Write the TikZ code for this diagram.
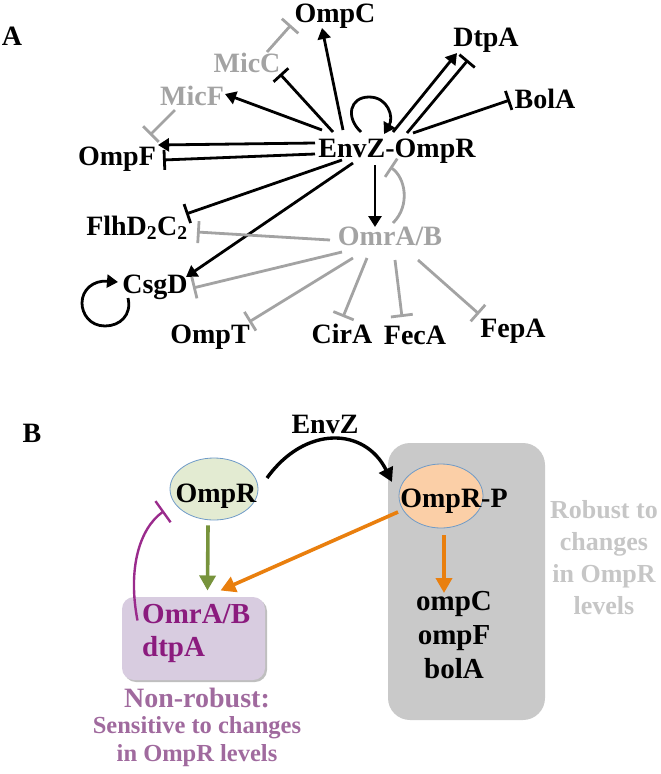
\documentclass[tikz,border=0pt]{standalone}
\usepackage{fontspec}
\setmainfont{Liberation Serif}
\usetikzlibrary{arrows.meta,shapes.geometric}
\definecolor{grA}{HTML}{A3A3A3}
\definecolor{boxgray}{HTML}{C9C9C9}
\definecolor{robgray}{HTML}{C6C6C6}
\definecolor{greenar}{HTML}{77933C}
\definecolor{orangear}{HTML}{E97F0E}
\definecolor{purpline}{HTML}{9A2B8C}
\definecolor{purptext}{HTML}{8B1B7E}
\definecolor{nonrob}{HTML}{A06A9E}
\definecolor{lavender}{HTML}{D8CCE0}
\definecolor{sage}{HTML}{E3EBD2}
\definecolor{peach}{HTML}{FBCFA7}
\definecolor{ellline}{HTML}{6F9BC8}
\tikzset{
  lbl/.style={font=\bfseries\fontsize{28}{30}\selectfont, inner sep=0pt, anchor=base},
  glbl/.style={lbl, text=grA},
  blk/.style={draw=black, line width=2.8pt},
  gry/.style={draw=grA, line width=2.8pt},
  act/.style={-{Triangle[length=11pt,width=13pt]}},
  inh/.style={-{Bar[width=20pt,line width=2.8pt]}},
  ginh/.style={-{Bar[width=22pt,line width=2.8pt]}},
  bigact/.style={line width=3.6pt,-{Triangle[length=15pt,width=16pt]}},
  ell/.style={ellipse, draw=ellline, line width=0.8pt, inner sep=0pt},
}
\begin{document}
\begin{tikzpicture}[x=1pt,y=-1pt]
\useasboundingbox (0,0) rectangle (661,774);
% ---------- Panel A ----------
\node[lbl, font=\bfseries\fontsize{28}{30}\selectfont] (lA) at (12,45) {A};
\node[lbl] (ompc) at (335,22) {OmpC};
\node[glbl] (micc) at (247,72) {MicC};
\node[glbl] (micf) at (192,105) {MicF};
\node[lbl] (ompf) at (117,165) {OmpF};
\node[lbl] (envz) at (397,157) {EnvZ-OmpR};
\node[lbl] (dtpa) at (486,46) {DtpA};
\node[lbl] (bola) at (545,108) {BolA};
\node[lbl] (flhd) at (137,235) {FlhD\textsubscript{2}C\textsubscript{2}};
\node[glbl] (omrab) at (390,245) {OmrA/B};
\node[lbl] (csgd) at (155,293) {CsgD};
\node[lbl] (ompt) at (210,343) {OmpT};
\node[lbl] (cira) at (342,343) {CirA};
\node[lbl] (feca) at (415,344) {FecA};
\node[lbl] (fepa) at (513,337) {FepA};

% black edges from EnvZ-OmpR
\draw[blk,act] ([shift={(-54,-27)}]envz.base) -- ([shift={(-13,6)}]ompc.base);
\draw[blk,inh] ([shift={(-64,-25)}]envz.base) -- ([shift={(33,2)}]micc.base);
\draw[blk,act] ([shift={(-75,-27)}]envz.base) -- ([shift={(33,-11)}]micf.base);
\draw[blk,act] ([shift={(-82,-14)}]envz.base) -- ([shift={(41,-20)}]ompf.base);
\draw[blk,inh] ([shift={(-82,-3)}]envz.base) -- ([shift={(46,-5)}]ompf.base);
\draw[blk,act] ([shift={(-36,-25)}]envz.base) .. controls ([shift={(-52,-40)}]envz.base) and ([shift={(-47,-60)}]envz.base) .. ([shift={(-28,-60)}]envz.base) .. controls ([shift={(-9,-60)}]envz.base) and ([shift={(-3,-40)}]envz.base) .. ([shift={(-13,-23)}]envz.base);
\draw[blk,act] ([shift={(-4,-25)}]envz.base) -- ([shift={(-29,7)}]dtpa.base);
\draw[blk,inh] ([shift={(10,-24)}]envz.base) -- ([shift={(-18,14)}]dtpa.base);
\draw[blk,inh] ([shift={(16,-24)}]envz.base) -- ([shift={(-35,-8)}]bola.base);
\draw[blk,act] ([shift={(-22,8)}]envz.base) -- ([shift={(-15,-18)}]omrab.base);
\draw[blk,inh] ([shift={(-55,3)}]envz.base) -- ([shift={(49,-21)}]flhd.base);
\draw[blk,act] ([shift={(-44,6)}]envz.base) -- ([shift={(31,-16)}]csgd.base);
% CsgD self loop
\draw[blk,act] ([shift={(-27,5)}]csgd.base) .. controls ([shift={(-23,22)}]csgd.base) and ([shift={(-35,33)}]csgd.base) .. ([shift={(-50,33)}]csgd.base) .. controls ([shift={(-65,33)}]csgd.base) and ([shift={(-73,21)}]csgd.base) .. ([shift={(-73,10)}]csgd.base) .. controls ([shift={(-73,-3)}]csgd.base) and ([shift={(-62,-13)}]csgd.base) .. ([shift={(-37,-11)}]csgd.base);

% gray edges
\draw[gry,ginh] ([shift={(20,-20)}]micc.base) -- ([shift={(-44,3)}]ompc.base);
\draw[gry,ginh] ([shift={(-17,5)}]micf.base) -- ([shift={(33,-30)}]ompf.base);
\draw[gry,ginh] ([shift={(3,-22)}]omrab.base) .. controls ([shift={(21,-40)}]omrab.base) and ([shift={(15,-68)}]omrab.base) .. ([shift={(-7,10)}]envz.base);
\draw[gry,ginh] ([shift={(-60,-5)}]omrab.base) -- ([shift={(60,-3)}]flhd.base);
\draw[gry,ginh] ([shift={(-48,7)}]omrab.base) -- ([shift={(38,-5)}]csgd.base);
\draw[gry,ginh] ([shift={(-37,13)}]omrab.base) -- ([shift={(39,-21)}]ompt.base);
\draw[gry,ginh] ([shift={(-23,13)}]omrab.base) -- ([shift={(1,-26)}]cira.base);
\draw[gry,ginh] ([shift={(5,15)}]omrab.base) -- ([shift={(-13,-27)}]feca.base);
\draw[gry,ginh] ([shift={(28,15)}]omrab.base) -- ([shift={(-34,-23)}]fepa.base);

% ---------- Panel B ----------
\node[lbl] (lB) at (32,442) {B};
\node[draw=none, fill=boxgray, rounded corners=22pt, minimum width=157pt, minimum height=277pt, inner sep=0pt] (robbox) at (466.5,581.5) {};
\node[fill=black!25, rounded corners=12pt, minimum width=143pt, minimum height=83pt, inner sep=0pt] (purpshadow) at (195.5,640.5) {};
\node[fill=lavender, rounded corners=12pt, minimum width=143pt, minimum height=83pt, inner sep=0pt] (purpbox) at (193.5,638.5) {};
\node[ell, fill=sage, minimum width=88pt, minimum height=62pt] (ompr) at (214,489) {};
\node[lbl] (omprtxt) at (216,502) {OmpR};
\node[ell, fill=peach, minimum width=84pt, minimum height=64pt] (omprp) at (441,496) {};
\node[lbl] (omprptxt) at (454,507) {OmpR-P};
\node[lbl] (envzB) at (325,433) {EnvZ};
\node[lbl, align=center, font=\bfseries\fontsize{29}{34}\selectfont, anchor=north] (genes) at (454,591) {ompC\\ompF\\bolA};
\node[lbl, align=center, text=robgray, font=\bfseries\fontsize{26}{32}\selectfont, anchor=north] (robtxt) at (604,500) {Robust to\\changes\\in OmpR\\levels};
\node[lbl, align=left, text=purptext, font=\bfseries\fontsize{29}{33}\selectfont, anchor=north west] (omrabB) at (142,604) {OmrA/B\\dtpA};
\node[lbl, text=nonrob] (nonrob) at (197,707) {Non-robust:};
\node[lbl, text=nonrob, align=center, font=\bfseries\fontsize{24.5}{28}\selectfont, anchor=north] (senstxt) at (197,716) {Sensitive to changes\\in OmpR levels};

\draw[line width=3.4pt,-{Triangle[length=14pt,width=15pt]}] ([shift={(53,-11)}]ompr.center) .. controls +(38,-53) and +(-27,-55) .. ([shift={(-49,-14)}]omprp.center);
\draw[bigact, draw=greenar, -{Triangle[length=15pt,width=16pt,fill=greenar]}] ([shift={(-6,5)}]ompr.south) -- ([shift={(14,-48)}]purpbox.center);
\draw[bigact, draw=orangear] ([shift={(-43,16)}]omprp.center) -- ([shift={(27,-48)}]purpbox.center);
\draw[bigact, draw=orangear] ([shift={(3,7)}]omprp.south) -- ([shift={(-10,2)}]genes.north);
\draw[purpline, line width=2.4pt, -{Bar[width=26pt,line width=2.4pt]}] ([shift={(-56,-18)}]purpbox.center) .. controls ([shift={(-66,-70)}]purpbox.center) and ([shift={(-54,-110)}]purpbox.center) .. ([shift={(-50,22)}]ompr.center);
\end{tikzpicture}
\end{document}
